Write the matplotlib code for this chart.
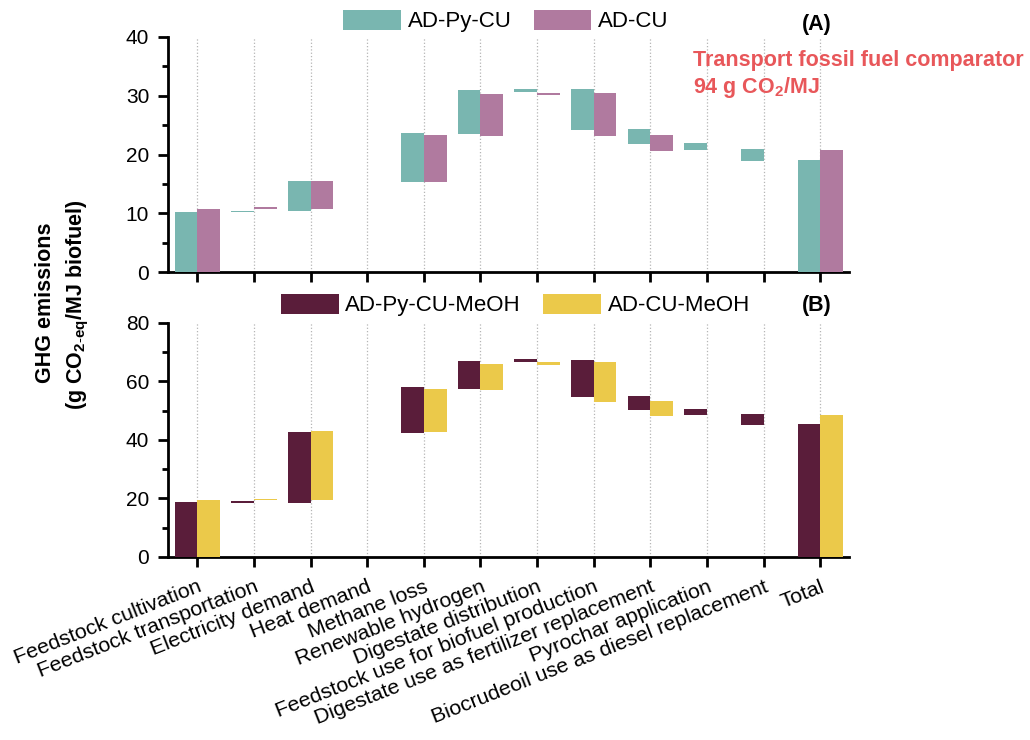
import numpy as np
import matplotlib.pyplot as plt

plt.rcParams.update({
    'font.family': 'Liberation Sans',
    'mathtext.fontset': 'custom',
    'mathtext.rm': 'Liberation Sans',
    'mathtext.bf': 'Liberation Sans:bold',
    'mathtext.it': 'Liberation Sans:italic',
})

stages = ['Feedstock cultivation', 'Feedstock transportation', 'Electricity demand',
          'Heat demand', 'Methane loss', 'Renewable hydrogen', 'Digestate distribution',
          'Feedstock use for biofuel production', 'Digestate use as fertilizer replacement',
          'Pyrochar application', 'Biocrudeoil use as diesel replacement', 'Total']
nan = np.nan

# (A) waterfall steps, lower and upper end of each bar
py_cu_lo = [0, 10.2, 10.4, nan, 15.3, 23.5, 30.7, 24.1, 21.8, 20.8, 18.9, 0]
py_cu_hi = [10.2, 10.45, 15.45, nan, 23.6, 30.9, 31.1, 31.1, 24.3, 21.9, 20.9, 19.0]
cu_lo = [0, 10.7, 10.7, nan, 15.3, 23.2, 30.15, 23.2, 20.6, nan, nan, 0]
cu_hi = [10.7, 11.0, 15.57, nan, 23.4, 30.3, 30.55, 30.5, 23.3, nan, nan, 20.7]

# (B) methanol routes
py_meoh_lo = [0, 18.3, 18.5, nan, 42.3, 57.5, 66.6, 54.5, 50.2, 48.4, 45.0, 0]
py_meoh_hi = [18.7, 19.0, 42.8, nan, 57.9, 67.0, 67.5, 67.4, 54.9, 50.6, 48.8, 45.4]
cu_meoh_lo = [0, 19.3, 19.5, nan, 42.6, 57.0, 65.6, 52.8, 48.0, nan, nan, 0]
cu_meoh_hi = [19.6, 19.9, 43.0, nan, 57.5, 66.0, 66.5, 66.5, 53.3, nan, nan, 48.5]

c_teal, c_mauve = '#79b6b0', '#b07a9f'
c_maroon, c_yellow = '#5a1d3a', '#ebc94a'

fig = plt.figure(figsize=(10.3, 7.4), dpi=100)
ax_a = fig.add_axes([0.1631, 0.6324, 0.6612, 0.3176])
ax_b = fig.add_axes([0.1631, 0.2473, 0.6612, 0.3166])

x = np.arange(len(stages))
w = 0.4


def draw_pair(ax, lo1, hi1, lo2, hi2, col1, col2, lab1, lab2):
    lo1, hi1, lo2, hi2 = map(np.asarray, (lo1, hi1, lo2, hi2))
    ax.bar(x, hi1 - lo1, bottom=lo1, width=-w, align='edge', color=col1,
           linewidth=0, label=lab1, zorder=3)
    ax.bar(x, hi2 - lo2, bottom=lo2, width=w, align='edge', color=col2,
           linewidth=0, label=lab2, zorder=3)


def style(ax, ymax, major, minor):
    ax.set_xlim(-0.52, 11.51)
    ax.set_ylim(0, ymax)
    ax.set_xticks(x)
    ax.set_yticks(np.arange(0, ymax + 1, major))
    ax.set_yticks(np.arange(minor, ymax, major), minor=True)
    for s in ('top', 'right'):
        ax.spines[s].set_visible(False)
    for s in ('left', 'bottom'):
        ax.spines[s].set_linewidth(2.0)
    ax.tick_params(which='major', length=7.5, width=2.0, labelsize=15, pad=6)
    ax.tick_params(which='minor', length=4.5, width=2.0)
    ax.grid(axis='x', linestyle=':', color='#b5b5b5', linewidth=0.9, zorder=0)
    ax.set_axisbelow(True)


draw_pair(ax_a, py_cu_lo, py_cu_hi, cu_lo, cu_hi, c_teal, c_mauve, 'AD-Py-CU', 'AD-CU')
draw_pair(ax_b, py_meoh_lo, py_meoh_hi, cu_meoh_lo, cu_meoh_hi, c_maroon, c_yellow,
          'AD-Py-CU-MeOH', 'AD-CU-MeOH')

style(ax_a, 40, 10, 5)
style(ax_b, 80, 20, 10)
ax_a.tick_params(axis='x', labelbottom=False)
ax_b.set_xticklabels(stages, rotation=21.5, ha='right', va='top', rotation_mode='anchor',
                     fontsize=15.4)
ax_b.tick_params(axis='x', pad=7)

leg_kw = dict(loc='center', ncol=2, frameon=False, fontsize=16, handlelength=2.6,
              handleheight=1.0, handletextpad=0.3, columnspacing=1.0, borderpad=0)
ax_a.legend(bbox_to_anchor=(0.496, 1.068), **leg_kw)
ax_b.legend(bbox_to_anchor=(0.510, 1.0755), **leg_kw)

ax_a.text(0.953, 1.055, '(A)', transform=ax_a.transAxes, ha='center', va='center',
          fontsize=15.5, fontweight='bold')
ax_b.text(0.953, 1.0755, '(B)', transform=ax_b.transAxes, ha='center', va='center',
          fontsize=15.5, fontweight='bold')

red = '#e8575a'
ax_a.text(0.771, 0.902, 'Transport fossil fuel comparator', transform=ax_a.transAxes,
          ha='left', va='center', fontsize=15.5, fontweight='bold', color=red)
ax_a.text(0.771, 0.787, r'94 g CO$_\mathbf{2}$/MJ', transform=ax_a.transAxes,
          ha='left', va='center', fontsize=15.5, fontweight='bold', color=red)

fig.text(0.0437, 0.5905, 'GHG emissions', rotation=90, ha='center', va='center',
         fontsize=15.5, fontweight='bold')
fig.text(0.0757, 0.588, r'(g CO$_{\mathbf{2\text{-}eq}}$/MJ biofuel)', rotation=90,
         ha='center', va='center', fontsize=15.5, fontweight='bold')

fig.savefig('out.png', dpi=100)
